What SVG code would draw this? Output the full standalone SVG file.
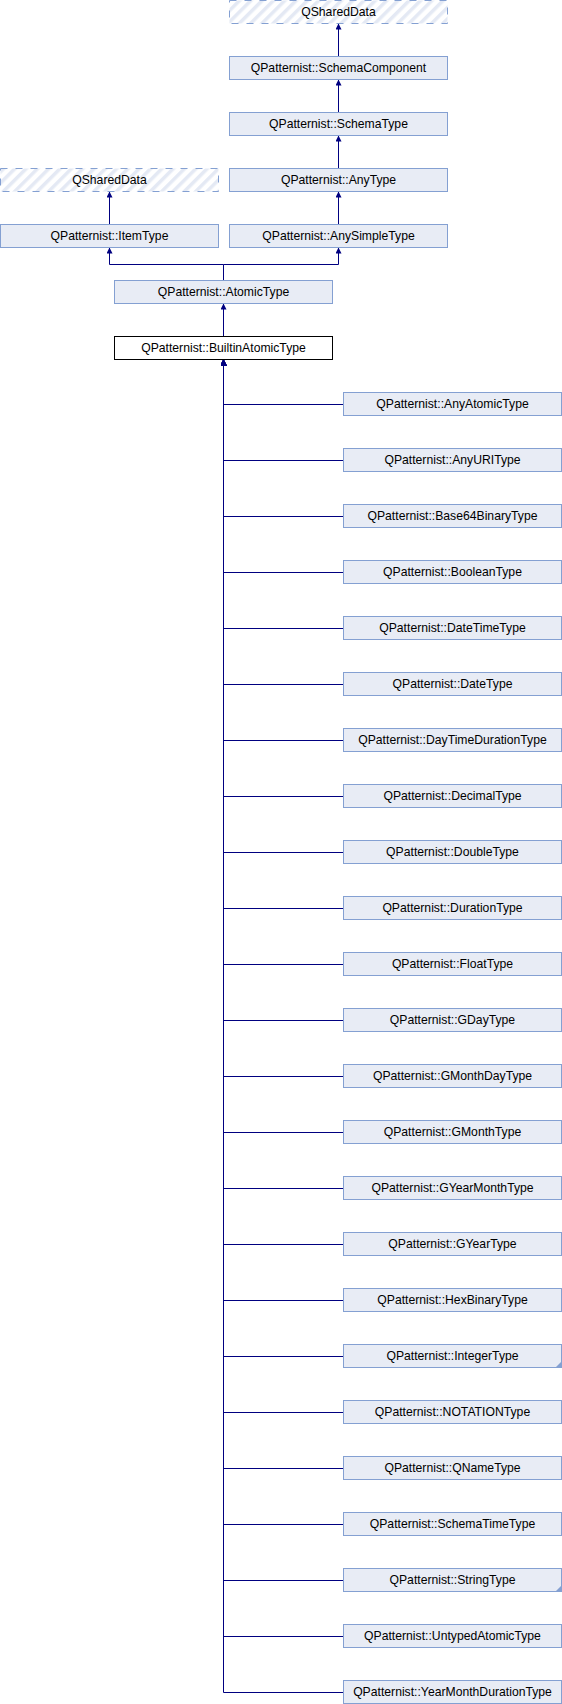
<svg xmlns="http://www.w3.org/2000/svg" width="562" height="1704" viewBox="0 0 562 1704">
<style>
.n{fill:#E8ECF5;stroke:#84A0D2;stroke-width:1}
.v{fill:url(#hatch);stroke:#84A0D2;stroke-width:1;stroke-dasharray:7,8}
.b{fill:#FFFFFF;stroke:#000000;stroke-width:1}
text{font-family:"Liberation Sans",Arial,sans-serif;font-size:12.2px;fill:#000000;text-anchor:middle}
.c{fill:none;stroke:#000080;stroke-width:1;marker-end:url(#arr)}
.t{fill:#84A0D2;stroke:none}
</style>
<defs>
<pattern id="hatch" patternUnits="userSpaceOnUse" width="8" height="8" patternTransform="rotate(45)">
<rect width="8" height="8" fill="#FFFFFF"/>
<rect x="0" y="0" width="3.5" height="8" fill="#E4E9F4"/>
</pattern>
<marker id="arr" viewBox="0 0 10 10" refX="10" refY="5" markerWidth="7" markerHeight="6" markerUnits="userSpaceOnUse" orient="auto">
<path d="M0,0 L10,5 L0,10 z" fill="#000080"/>
</marker>
</defs>
<g id="connectors">
<path class="c" d="M338.5,56.5 V23.5"/>
<path class="c" d="M338.5,112.5 V79.5"/>
<path class="c" d="M338.5,168.5 V135.5"/>
<path class="c" d="M338.5,224.5 V191.5"/>
<path class="c" d="M109.5,224.5 V191.5"/>
<path class="c" d="M223.5,280.5 V264.5 H109.5 V247.5"/>
<path class="c" d="M223.5,264.5 H338.5 V247.5"/>
<path class="c" d="M223.5,336.5 V303.5"/>
<path class="c" d="M343.5,404.5 H223.5 V359.5"/>
<path class="c" d="M343.5,460.5 H223.5 V359.5"/>
<path class="c" d="M343.5,516.5 H223.5 V359.5"/>
<path class="c" d="M343.5,572.5 H223.5 V359.5"/>
<path class="c" d="M343.5,628.5 H223.5 V359.5"/>
<path class="c" d="M343.5,684.5 H223.5 V359.5"/>
<path class="c" d="M343.5,740.5 H223.5 V359.5"/>
<path class="c" d="M343.5,796.5 H223.5 V359.5"/>
<path class="c" d="M343.5,852.5 H223.5 V359.5"/>
<path class="c" d="M343.5,908.5 H223.5 V359.5"/>
<path class="c" d="M343.5,964.5 H223.5 V359.5"/>
<path class="c" d="M343.5,1020.5 H223.5 V359.5"/>
<path class="c" d="M343.5,1076.5 H223.5 V359.5"/>
<path class="c" d="M343.5,1132.5 H223.5 V359.5"/>
<path class="c" d="M343.5,1188.5 H223.5 V359.5"/>
<path class="c" d="M343.5,1244.5 H223.5 V359.5"/>
<path class="c" d="M343.5,1300.5 H223.5 V359.5"/>
<path class="c" d="M343.5,1356.5 H223.5 V359.5"/>
<path class="c" d="M343.5,1412.5 H223.5 V359.5"/>
<path class="c" d="M343.5,1468.5 H223.5 V359.5"/>
<path class="c" d="M343.5,1524.5 H223.5 V359.5"/>
<path class="c" d="M343.5,1580.5 H223.5 V359.5"/>
<path class="c" d="M343.5,1636.5 H223.5 V359.5"/>
<path class="c" d="M343.5,1692.5 H223.5 V359.5"/>
</g>
<g id="QSharedData_top"><rect class="v" x="229.5" y="0.5" width="218" height="23"/><text x="338.5" y="16">QSharedData</text></g>
<g id="SchemaComponent"><rect class="n" x="229.5" y="56.5" width="218" height="23"/><text x="338.5" y="72">QPatternist::SchemaComponent</text></g>
<g id="SchemaType"><rect class="n" x="229.5" y="112.5" width="218" height="23"/><text x="338.5" y="128">QPatternist::SchemaType</text></g>
<g id="QSharedData_left"><rect class="v" x="0.5" y="168.5" width="218" height="23"/><text x="109.5" y="184">QSharedData</text></g>
<g id="AnyType"><rect class="n" x="229.5" y="168.5" width="218" height="23"/><text x="338.5" y="184">QPatternist::AnyType</text></g>
<g id="ItemType"><rect class="n" x="0.5" y="224.5" width="218" height="23"/><text x="109.5" y="240">QPatternist::ItemType</text></g>
<g id="AnySimpleType"><rect class="n" x="229.5" y="224.5" width="218" height="23"/><text x="338.5" y="240">QPatternist::AnySimpleType</text></g>
<g id="AtomicType"><rect class="n" x="114.5" y="280.5" width="218" height="23"/><text x="223.5" y="296">QPatternist::AtomicType</text></g>
<g id="BuiltinAtomicType"><rect class="b" x="114.5" y="336.5" width="218" height="23"/><text x="223.5" y="352">QPatternist::BuiltinAtomicType</text></g>
<g id="AnyAtomicType"><rect class="n" x="343.5" y="392.5" width="218" height="23"/><text x="452.5" y="408">QPatternist::AnyAtomicType</text></g>
<g id="AnyURIType"><rect class="n" x="343.5" y="448.5" width="218" height="23"/><text x="452.5" y="464">QPatternist::AnyURIType</text></g>
<g id="Base64BinaryType"><rect class="n" x="343.5" y="504.5" width="218" height="23"/><text x="452.5" y="520">QPatternist::Base64BinaryType</text></g>
<g id="BooleanType"><rect class="n" x="343.5" y="560.5" width="218" height="23"/><text x="452.5" y="576">QPatternist::BooleanType</text></g>
<g id="DateTimeType"><rect class="n" x="343.5" y="616.5" width="218" height="23"/><text x="452.5" y="632">QPatternist::DateTimeType</text></g>
<g id="DateType"><rect class="n" x="343.5" y="672.5" width="218" height="23"/><text x="452.5" y="688">QPatternist::DateType</text></g>
<g id="DayTimeDurationType"><rect class="n" x="343.5" y="728.5" width="218" height="23"/><text x="452.5" y="744">QPatternist::DayTimeDurationType</text></g>
<g id="DecimalType"><rect class="n" x="343.5" y="784.5" width="218" height="23"/><text x="452.5" y="800">QPatternist::DecimalType</text></g>
<g id="DoubleType"><rect class="n" x="343.5" y="840.5" width="218" height="23"/><text x="452.5" y="856">QPatternist::DoubleType</text></g>
<g id="DurationType"><rect class="n" x="343.5" y="896.5" width="218" height="23"/><text x="452.5" y="912">QPatternist::DurationType</text></g>
<g id="FloatType"><rect class="n" x="343.5" y="952.5" width="218" height="23"/><text x="452.5" y="968">QPatternist::FloatType</text></g>
<g id="GDayType"><rect class="n" x="343.5" y="1008.5" width="218" height="23"/><text x="452.5" y="1024">QPatternist::GDayType</text></g>
<g id="GMonthDayType"><rect class="n" x="343.5" y="1064.5" width="218" height="23"/><text x="452.5" y="1080">QPatternist::GMonthDayType</text></g>
<g id="GMonthType"><rect class="n" x="343.5" y="1120.5" width="218" height="23"/><text x="452.5" y="1136">QPatternist::GMonthType</text></g>
<g id="GYearMonthType"><rect class="n" x="343.5" y="1176.5" width="218" height="23"/><text x="452.5" y="1192">QPatternist::GYearMonthType</text></g>
<g id="GYearType"><rect class="n" x="343.5" y="1232.5" width="218" height="23"/><text x="452.5" y="1248">QPatternist::GYearType</text></g>
<g id="HexBinaryType"><rect class="n" x="343.5" y="1288.5" width="218" height="23"/><text x="452.5" y="1304">QPatternist::HexBinaryType</text></g>
<g id="IntegerType"><rect class="n" x="343.5" y="1344.5" width="218" height="23"/><polygon class="t" points="562,1361 562,1368 555,1368"/><text x="452.5" y="1360">QPatternist::IntegerType</text></g>
<g id="NOTATIONType"><rect class="n" x="343.5" y="1400.5" width="218" height="23"/><text x="452.5" y="1416">QPatternist::NOTATIONType</text></g>
<g id="QNameType"><rect class="n" x="343.5" y="1456.5" width="218" height="23"/><text x="452.5" y="1472">QPatternist::QNameType</text></g>
<g id="SchemaTimeType"><rect class="n" x="343.5" y="1512.5" width="218" height="23"/><text x="452.5" y="1528">QPatternist::SchemaTimeType</text></g>
<g id="StringType"><rect class="n" x="343.5" y="1568.5" width="218" height="23"/><polygon class="t" points="562,1585 562,1592 555,1592"/><text x="452.5" y="1584">QPatternist::StringType</text></g>
<g id="UntypedAtomicType"><rect class="n" x="343.5" y="1624.5" width="218" height="23"/><text x="452.5" y="1640">QPatternist::UntypedAtomicType</text></g>
<g id="YearMonthDurationType"><rect class="n" x="343.5" y="1680.5" width="218" height="23"/><text x="452.5" y="1696">QPatternist::YearMonthDurationType</text></g>
</svg>
